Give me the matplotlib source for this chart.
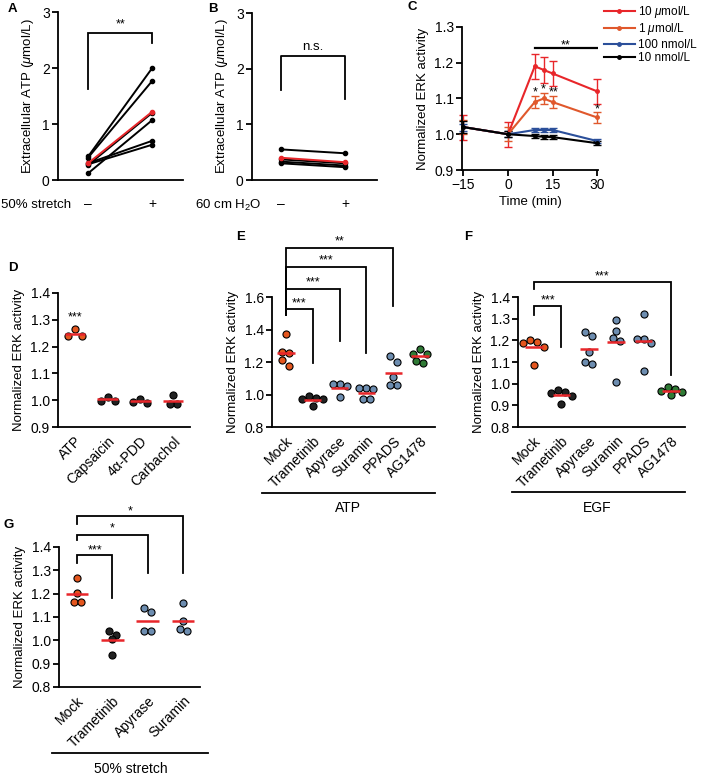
import numpy as np
import matplotlib
matplotlib.use('Agg')
import matplotlib.pyplot as plt
from matplotlib.lines import Line2D

plt.rcParams['font.family'] = ['Liberation Sans', 'DejaVu Sans']
plt.rcParams['mathtext.fontset'] = 'custom'
plt.rcParams['mathtext.rm'] = 'Liberation Sans'
plt.rcParams['mathtext.it'] = 'Liberation Sans:italic'
plt.rcParams['mathtext.bf'] = 'Liberation Sans:bold'

# ---------------- data ----------------
# A: extracellular ATP, 50% stretch (- / +)
stretch_pre = [0.42, 0.40, 0.27, 0.12, 0.30, 0.28]
stretch_post = [2.00, 1.77, 1.20, 1.07, 0.70, 0.63]
stretch_mean = [0.30, 1.22]
# B: extracellular ATP, 60 cm H2O (- / +)
water_pre = [0.55, 0.37, 0.33, 0.30]
water_post = [0.48, 0.30, 0.26, 0.23]
water_mean = [0.40, 0.32]

# C: time course of ERK activity
times = [-15, 0, 9, 12, 15, 30]
conc_labels = ['10 $\\mu$mol/L', '1 $\\mu$mol/L', '100 nmol/L', '10 nmol/L']
erk_10um = [1.02, 1.00, 1.19, 1.18, 1.17, 1.12]
erk_1um = [1.02, 1.00, 1.09, 1.10, 1.09, 1.047]
erk_100nm = [1.02, 1.00, 1.012, 1.012, 1.012, 0.981]
erk_10nm = [1.02, 1.00, 0.995, 0.993, 0.992, 0.975]
err_10um = [0.035, 0.035, 0.035, 0.036, 0.034, 0.034]
err_1um = [0.02, 0.02, 0.016, 0.016, 0.016, 0.016]
err_100nm = [0.01, 0.008, 0.006, 0.006, 0.006, 0.005]
err_10nm = [0.017, 0.008, 0.006, 0.005, 0.006, 0.005]

# D: agonists
d_labels = ['ATP', 'Capsaicin', '4α-PDD', 'Carbachol']
d_atp = [1.265, 1.24, 1.24]
d_capsaicin = [1.012, 0.998, 0.998]
d_pdd = [1.006, 0.995, 0.991]
d_carbachol = [1.019, 0.985, 0.985]

# E, F: inhibitors with ATP / EGF
inhib_labels = ['Mock', 'Trametinib', 'Apyrase', 'Suramin', 'PPADS', 'AG1478']
e_mock = [1.371, 1.264, 1.254, 1.212, 1.175]
e_tram = [0.99, 0.98, 0.975, 0.97, 0.93]
e_apy = [1.062, 1.062, 1.052, 0.986]
e_sur = [1.041, 1.037, 1.033, 0.975, 0.971]
e_ppads = [1.239, 1.202, 1.105, 1.058, 1.058]
e_ag = [1.28, 1.249, 1.249, 1.206, 1.196]

f_mock = [1.202, 1.194, 1.19, 1.171, 1.086]
f_tram = [0.97, 0.96, 0.955, 0.945, 0.905]
f_apy = [1.238, 1.222, 1.145, 1.102, 1.089]
f_sur = [1.295, 1.244, 1.21, 1.199, 1.006]
f_ppads = [1.321, 1.207, 1.207, 1.187, 1.06]
f_ag = [0.983, 0.975, 0.965, 0.96, 0.95]

# G: 50% stretch
g_labels = ['Mock', 'Trametinib', 'Apyrase', 'Suramin']
g_mock = [1.267, 1.203, 1.164, 1.164]
g_tram = [1.039, 1.024, 1.007, 0.936]
g_apy = [1.139, 1.121, 1.039, 1.039]
g_sur = [1.161, 1.081, 1.047, 1.039]

# ---------------- style ----------------
RED = '#e8262a'
ORANGE = '#e4561e'
ORANGE_LINE = '#e0582c'
NAVY = '#2b4f9a'
DARK = '#222222'
BLUEGRAY = '#6d8db0'
GREEN = '#2f7a35'
W, H = 709, 778

fig = plt.figure(figsize=(W / 100, H / 100), dpi=100)


def px_rect(l, t, r, b):
    return [l / W, 1 - b / H, (r - l) / W, (b - t) / H]


def fig_line(x1, x2, y):
    fig.add_artist(Line2D([x1 / W, x2 / W], [1 - y / H, 1 - y / H],
                          color='k', lw=1.3, transform=fig.transFigure))


def fig_text(x, y, s, **kw):
    fig.text(x / W, 1 - y / H, s, **kw)


def style(ax):
    for s in ['top', 'right']:
        ax.spines[s].set_visible(False)
    for s in ['left', 'bottom']:
        ax.spines[s].set_linewidth(1.3)
    ax.tick_params(width=1.3, length=4, labelsize=10, pad=2)


def bracket(ax, x1, x2, yl, yh, yr, txt, ty, size=9):
    ax.plot([x1, x1, x2, x2], [yl, yh, yh, yr], color='k', lw=1.3,
            clip_on=False, solid_joinstyle='miter')
    ax.text((x1 + x2) / 2, ty, txt, ha='center', va='center', fontsize=size)


def swarm_offsets(ax, vals, d_px=7.0):
    x0, x1 = ax.get_xlim()
    y0, y1 = ax.get_ylim()
    pxx = ax.bbox.width / (x1 - x0)
    pxy = ax.bbox.height / (y1 - y0)
    order = np.argsort(vals)[::-1]
    offs = np.zeros(len(vals))
    clusters = []
    for i in order:
        if clusters and (vals[clusters[-1][0]] - vals[i]) * pxy < d_px:
            clusters[-1].append(i)
        else:
            clusters.append([i])
    for cl in clusters:
        k = len(cl)
        slots = [(j - (k - 1) / 2) for j in range(k)]
        slots = sorted(slots, key=lambda s: (abs(s), s))
        for idx, s in zip(cl, slots):
            offs[idx] = s * d_px / pxx
    return offs


def dot_panel(ax, groups, colors, labels):
    for i, (vals, c) in enumerate(zip(groups, colors)):
        offs = swarm_offsets(ax, vals)
        ax.scatter(i + offs, vals, s=26, color=c, edgecolor='k', lw=0.8,
                   zorder=2, clip_on=False)
        m = np.mean(vals)
        ax.plot([i - 0.32, i + 0.32], [m, m], color=RED, lw=1.8, zorder=3,
                solid_capstyle='butt')
    ax.set_xticks(range(len(labels)))
    ax.set_xticklabels(labels, rotation=45, ha='right', va='top',
                       rotation_mode='anchor')
    ax.tick_params(axis='x', length=0, pad=5)
    ax.set_ylabel('Normalized ERK activity', fontsize=9.5)


# ---------------- A ----------------
axA = fig.add_axes(px_rect(58, 12, 183, 180))
style(axA)
for a, b in zip(stretch_pre, stretch_post):
    axA.plot([0, 1], [a, b], '-o', color='k', lw=1.4, ms=3)
axA.plot([0, 1], stretch_mean, '-o', color=RED, lw=1.4, ms=3)
axA.set_xlim(-0.47, 1.48)
axA.set_ylim(0, 3)
axA.set_yticks([0, 1, 2, 3])
axA.set_xticks([0, 1])
axA.set_xticklabels(['–', '+'])
axA.tick_params(axis='x', length=0, pad=12)
axA.set_ylabel('Extracellular ATP ($\\mu$mol/L)', fontsize=9.5)
bracket(axA, 0, 1, 1.62, 2.62, 2.44, '**', 2.78)
fig_text(1, 205, '50% stretch', ha='left', va='center', fontsize=9.5)

# ---------------- B ----------------
axB = fig.add_axes(px_rect(252, 13, 377, 180))
style(axB)
for a, b in zip(water_pre, water_post):
    axB.plot([0, 1], [a, b], '-o', color='k', lw=1.4, ms=3)
axB.plot([0, 1], water_mean, '-o', color=RED, lw=1.4, ms=3)
axB.set_xlim(-0.45, 1.5)
axB.set_ylim(0, 3)
axB.set_yticks([0, 1, 2, 3])
axB.set_xticks([0, 1])
axB.set_xticklabels(['–', '+'])
axB.tick_params(axis='x', length=0, pad=12)
axB.set_ylabel('Extracellular ATP ($\\mu$mol/L)', fontsize=9.5)
axB.plot([0, 0, 1, 1], [1.61, 2.22, 2.22, 1.45], color='k', lw=1.3)
axB.text(0.5, 2.34, 'n.s.', ha='center', va='baseline', fontsize=9.5)
fig_text(262, 205, '60 cm H$_2$O', ha='right', va='center', fontsize=9.5)

# ---------------- C ----------------
axC = fig.add_axes(px_rect(462, 27, 598, 170))
style(axC)
series = [(erk_10um, err_10um, RED),
          (erk_1um, err_1um, ORANGE_LINE),
          (erk_100nm, err_100nm, NAVY),
          (erk_10nm, err_10nm, 'k')]
for (vals, errs, col), lab in zip(series, conc_labels):
    axC.errorbar(times, vals, yerr=errs, color=col, ecolor=col, lw=1.5,
                 marker='o', ms=2.5, capsize=2.8, elinewidth=1,
                 capthick=1, label=lab, clip_on=False)
axC.set_xlim(-15.5, 30.3)
axC.set_ylim(0.9, 1.3)
axC.set_xticks([-15, 0, 15, 30])
axC.set_yticks([0.9, 1.0, 1.1, 1.2, 1.3])
axC.set_yticklabels(['0.9', '1.0', '1.1', '1.2', '1.3'])
axC.set_xlabel('Time (min)', fontsize=9.5, labelpad=3)
axC.set_ylabel('Normalized ERK activity', fontsize=9.5)
axC.plot([9, 30], [1.24, 1.24], color='k', lw=1.6)
axC.text(19.5, 1.248, '**', ha='center', va='center', fontsize=9)
axC.text(9, 1.116, '*', ha='center', va='center', fontsize=9)
axC.text(12, 1.124, '*', ha='center', va='center', fontsize=9)
axC.text(15.3, 1.116, '**', ha='center', va='center', fontsize=9)
axC.text(30, 1.069, '*', ha='center', va='center', fontsize=9)
lines = [Line2D([], [], color=s[2], lw=1.5, marker='o', ms=2.5) for s in series]
fig.legend(lines, conc_labels, loc='upper left',
           bbox_to_anchor=(604 / W, 1 - 4 / H), frameon=False, fontsize=8.5,
           handlelength=2.6, handletextpad=0.3, labelspacing=0.12,
           borderpad=0, borderaxespad=0)

# ---------------- D ----------------
axD = fig.add_axes(px_rect(58, 293, 190, 427))
style(axD)
axD.set_xlim(-0.52, 3.52)
axD.set_ylim(0.9, 1.4)
axD.set_yticks([0.9, 1.0, 1.1, 1.2, 1.3, 1.4])
axD.set_yticklabels(['0.9', '1.0', '1.1', '1.2', '1.3', '1.4'])
dot_panel(axD, [d_atp, d_capsaicin, d_pdd, d_carbachol],
          [ORANGE, DARK, DARK, DARK], d_labels)
axD.text(0, 1.307, '***', ha='center', va='center', fontsize=9)

# ---------------- E ----------------
axE = fig.add_axes(px_rect(272, 297, 435, 427))
style(axE)
axE.set_xlim(-0.52, 5.56)
axE.set_ylim(0.8, 1.6)
axE.set_yticks([0.8, 1.0, 1.2, 1.4, 1.6])
axE.set_yticklabels(['0.8', '1.0', '1.2', '1.4', '1.6'])
dot_panel(axE, [e_mock, e_tram, e_apy, e_sur, e_ppads, e_ag],
          [ORANGE, DARK, BLUEGRAY, BLUEGRAY, BLUEGRAY, GREEN], inhib_labels)
bracket(axE, 0, 1, 1.49, 1.526, 1.194, '***', 1.562)
bracket(axE, 0, 2, 1.49, 1.65, 1.33, '***', 1.692)
bracket(axE, 0, 3, 1.49, 1.785, 1.255, '***', 1.822)
bracket(axE, 0, 4, 1.49, 1.90, 1.545, '**', 1.942)
fig_line(262, 435, 493)
fig_text(348, 508, 'ATP', ha='center', va='center', fontsize=10)

# ---------------- F ----------------
axF = fig.add_axes(px_rect(518, 297, 685, 427))
style(axF)
axF.set_xlim(-0.58, 5.51)
axF.set_ylim(0.8, 1.4)
axF.set_yticks([0.8, 0.9, 1.0, 1.1, 1.2, 1.3, 1.4])
axF.set_yticklabels(['0.8', '0.9', '1.0', '1.1', '1.2', '1.3', '1.4'])
dot_panel(axF, [f_mock, f_tram, f_apy, f_sur, f_ppads, f_ag],
          [ORANGE, DARK, BLUEGRAY, BLUEGRAY, BLUEGRAY, GREEN], inhib_labels)
bracket(axF, 0, 1, 1.317, 1.358, 1.169, '***', 1.386)
bracket(axF, 0, 5, 1.437, 1.469, 1.04, '***', 1.496)
fig_line(512, 685, 492)
fig_text(597, 508, 'EGF', ha='center', va='center', fontsize=10)

# ---------------- G ----------------
axG = fig.add_axes(px_rect(59, 547, 200, 687))
style(axG)
axG.set_xlim(-0.51, 3.48)
axG.set_ylim(0.8, 1.4)
axG.set_yticks([0.8, 0.9, 1.0, 1.1, 1.2, 1.3, 1.4])
axG.set_yticklabels(['0.8', '0.9', '1.0', '1.1', '1.2', '1.3', '1.4'])
dot_panel(axG, [g_mock, g_tram, g_apy, g_sur],
          [ORANGE, DARK, BLUEGRAY, BLUEGRAY], g_labels)
bracket(axG, 0, 1, 1.33, 1.366, 1.18, '***', 1.387)
bracket(axG, 0, 2, 1.43, 1.452, 1.29, '*', 1.481)
bracket(axG, 0, 3, 1.50, 1.533, 1.29, '*', 1.554)
fig_line(52, 208, 753)
fig_text(131, 769, '50% stretch', ha='center', va='center', fontsize=10)

# ---------------- panel letters ----------------
for s, x, y in [('A', 8, 9), ('B', 208, 9), ('C', 408, 7), ('D', 8, 268),
                ('E', 236, 237), ('F', 464, 237), ('G', 3, 525)]:
    fig_text(x, y, s, ha='left', va='center', fontsize=9.5, fontweight='bold')

fig.savefig('out.png', dpi=100)
